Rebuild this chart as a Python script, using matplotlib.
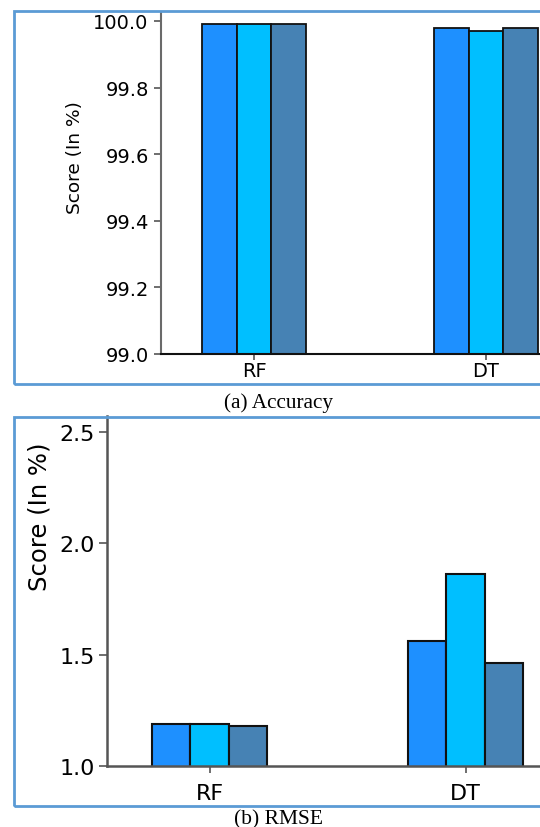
import matplotlib
matplotlib.use("Agg")
import matplotlib.pyplot as plt
import numpy as np
from matplotlib.patches import Rectangle

categories = ["RF", "DT"]
acc_series = [[99.99, 99.98], [99.99, 99.97], [99.99, 99.98]]
rmse_series = [[1.19, 1.56], [1.19, 1.86], [1.18, 1.46]]
colors = ["#1E90FF", "#00BFFF", "#4682B4"]
acc_ticks = [99.0, 99.2, 99.4, 99.6, 99.8, 100.0]
rmse_ticks = [1.0, 1.5, 2.0, 2.5]

W, H = 540, 828
fig = plt.figure(figsize=(W / 100, H / 100), dpi=100)
plt.rcParams['font.family'] = ['DejaVu Sans']

x = np.arange(len(categories))
width = 0.15
offsets = [-width, 0, width]

def px_rect(x0, y0, x1, y1):
    return [x0 / W, 1 - y1 / H, (x1 - x0) / W, (y1 - y0) / H]

# frames
frame_color = "#5B9BD5"
for (y0, y1) in [(11.5, 384.5), (418, 807)]:
    fig.patches.append(Rectangle((14 / W, 1 - y1 / H), 1.2, (y1 - y0) / H,
                                 transform=fig.transFigure, fill=False,
                                 edgecolor=frame_color, linewidth=2.0))

# panel a
ax1 = fig.add_axes([161.2 / W, 1 - 355 / H, 1.8 * 232 / W, (355 - 13) / H])
for i in range(3):
    ax1.bar(x + offsets[i], acc_series[i], width, color=colors[i],
            edgecolor="#111111", linewidth=1.3, zorder=2)
ax1.set_xlim(-0.4, 1.4)
ax1.set_ylim(99.0, 100.027)
ax1.set_yticks(acc_ticks)
ax1.set_yticklabels([f"{t:.1f}" for t in acc_ticks])
ax1.set_xticks(x)
ax1.set_xticklabels(categories)
ax1.tick_params(axis='y', labelsize=14, length=5, width=1.2, color="#555555", pad=4)
ax1.tick_params(axis='x', labelsize=14, length=4, width=1.2, color="#555555", pad=1)
for s in ["top", "right"]:
    ax1.spines[s].set_visible(False)
ax1.spines["left"].set_color("#6a6a6a")
ax1.spines["left"].set_linewidth(1.5)
ax1.spines["bottom"].set_color("#111111")
ax1.spines["bottom"].set_linewidth(1.5)
fig.text(75 / W, 1 - 158 / H, "Score (In %)", rotation=90, ha="center",
         va="center", fontsize=13.3)

# panel b
ax2 = fig.add_axes([107.3 / W, 1 - 767 / H, 1.8 * 255.9 / W, (767 - 417) / H])
for i in range(3):
    ax2.bar(x + offsets[i], rmse_series[i], width, color=colors[i],
            edgecolor="#111111", linewidth=1.5, zorder=2)
ax2.set_xlim(-0.4, 1.4)
ax2.set_ylim(1.0, 2.57)
ax2.set_yticks(rmse_ticks)
ax2.set_yticklabels([f"{t:.1f}" for t in rmse_ticks])
ax2.set_xticks(x)
ax2.set_xticklabels(categories)
ax2.tick_params(axis='y', labelsize=16, length=6, width=1.2, color="#555555", pad=3)
ax2.tick_params(axis='x', labelsize=16, length=5, width=1.2, color="#555555", pad=7)
for s in ["top", "right"]:
    ax2.spines[s].set_visible(False)
ax2.spines["left"].set_color("#555555")
ax2.spines["left"].set_linewidth(1.8)
ax2.spines["bottom"].set_color("#555555")
ax2.spines["bottom"].set_linewidth(1.8)
fig.text(40 / W, 1 - 517 / H, "Score (In %)", rotation=90, ha="center",
         va="center", fontsize=17.5)

# captions
fig.text(279 / W, 1 - 403.5 / H, "(a) Accuracy", ha="center", va="center",
         fontsize=15.3, family=["Liberation Serif", "DejaVu Serif"])
fig.text(279 / W, 1 - 820 / H, "(b) RMSE", ha="center", va="center",
         fontsize=15.5, family=["Liberation Serif", "DejaVu Serif"])

fig.savefig("out.png", dpi=100)
